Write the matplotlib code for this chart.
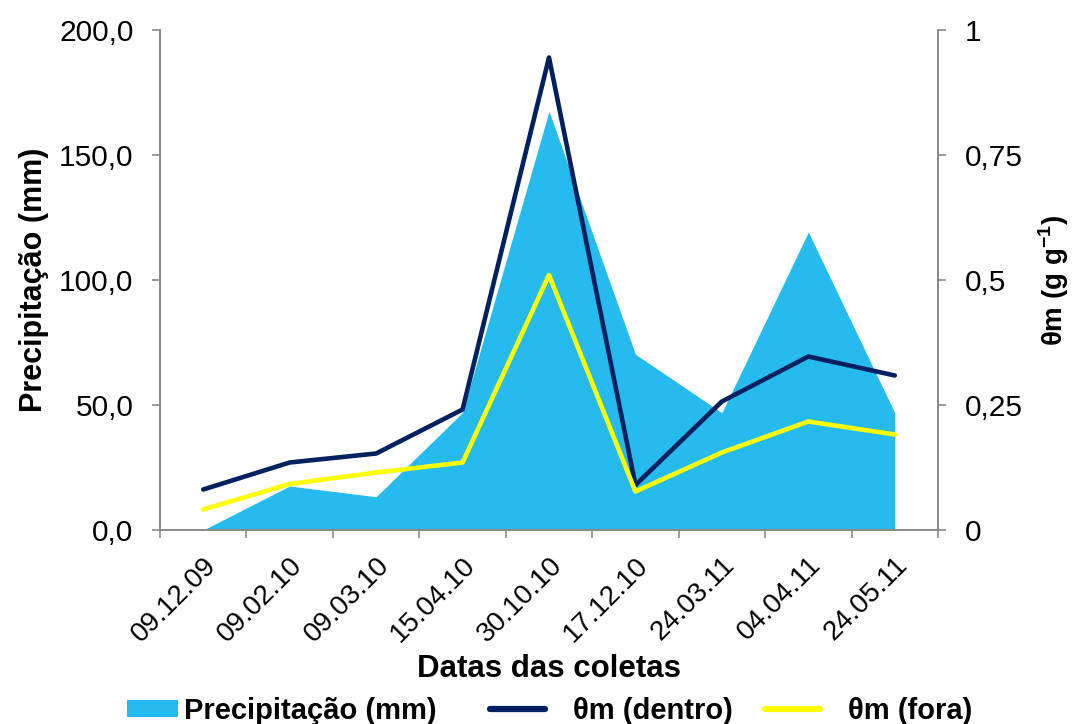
import matplotlib
matplotlib.use("Agg")
import matplotlib.pyplot as plt
import matplotlib.transforms as mtransforms
from matplotlib.patches import Patch
from matplotlib.lines import Line2D
import numpy as np

plt.rcParams['font.family'] = ['Liberation Sans', 'DejaVu Sans']
plt.rcParams['mathtext.fontset'] = 'custom'
plt.rcParams['mathtext.rm'] = 'Liberation Sans'
plt.rcParams['mathtext.bf'] = 'Liberation Sans:bold'

categories = ["09.12.09", "09.02.10", "09.03.10", "15.04.10", "30.10.10",
              "17.12.10", "24.03.11", "04.04.11", "24.05.11"]
precip = [0.0, 17.6, 13.3, 47.0, 167.5, 70.3, 46.9, 119.2, 46.9]
theta_dentro = [0.081, 0.135, 0.153, 0.241, 0.945, 0.090, 0.257, 0.347, 0.309]
theta_fora = [0.041, 0.092, 0.115, 0.135, 0.510, 0.077, 0.155, 0.217, 0.191]
left_ticks = [0, 50, 100, 150, 200]
left_labels = ["0,0", "50,0", "100,0", "150,0", "200,0"]
right_ticks = [0, 0.25, 0.5, 0.75, 1]
right_labels = ["0", "0,25", "0,5", "0,75", "1"]

c_area = "#25BBEF"
c_dentro = "#002060"
c_fora = "#FFFF00"
grey = "#898989"

fig = plt.figure(figsize=(10.74, 7.24), dpi=100)
ax = fig.add_axes([160/1074, 1-530/724, (938-160)/1074, 500/724])
x = np.arange(len(categories))
ax.fill_between(x, precip, 0, color=c_area, linewidth=0)
ax.set_xlim(-0.5, len(categories)-0.5)
ax.set_ylim(0, 200)
ax.set_yticks(left_ticks)
ax.set_yticklabels(left_labels, fontsize=21.5)
ax.set_xticks(x)
ax.set_xticklabels(categories, rotation=45, ha='right', va='top', rotation_mode='anchor', fontsize=20)
offset = mtransforms.ScaledTranslation(0.02, 0.0, fig.dpi_scale_trans)
for lab in ax.get_xticklabels():
    lab.set_transform(lab.get_transform() + offset)
ax.set_xticks(np.arange(-0.5, len(categories)), minor=True)
ax.tick_params(axis='x', which='major', length=0, pad=16)
ax.tick_params(axis='x', which='minor', length=6, color=grey, width=1.2, direction='out')
ax.tick_params(axis='y', length=6, color=grey, width=1.2, direction='out', pad=13)

ax2 = ax.twinx()
ax2.plot(x, theta_dentro, color=c_dentro, linewidth=3.3, solid_capstyle='round', solid_joinstyle='round')
ax2.plot(x, theta_fora, color=c_fora, linewidth=3.3, solid_capstyle='round', solid_joinstyle='round')
ax2.set_ylim(0, 1)
ax2.set_yticks(right_ticks)
ax2.set_yticklabels(right_labels, fontsize=21.5)
ax2.tick_params(axis='y', length=6, color=grey, width=1.2, direction='out', pad=13)

for a in (ax, ax2):
    a.spines['top'].set_visible(False)
    for s in ('left', 'right', 'bottom'):
        a.spines[s].set_color(grey)
        a.spines[s].set_linewidth(1.2)

ax.set_ylabel("Precipitação (mm)", fontsize=22, fontweight='bold', labelpad=7)
ax2.set_ylabel("θm (g g$^{\\mathbf{-1}}$)", fontsize=20, fontweight='bold', labelpad=10)
ax.set_xlabel("Datas das coletas", fontsize=22.5, fontweight='bold', labelpad=5)

legend_font = {'weight': 'bold', 'size': 21}
entries = [
    (Patch(facecolor=c_area, edgecolor='none'), "Precipitação (mm)", 127, 1.75, 0.2),
    (Line2D([0], [0], color=c_dentro, linewidth=4.5, solid_capstyle='round'), "θm (dentro)", 490, 1.88, 0.95),
    (Line2D([0], [0], color=c_fora, linewidth=4.5, solid_capstyle='round'), "θm (fora)", 765, 1.88, 0.95),
]
for h, lab, xpx, hl, htp in entries:
    leg = fig.legend([h], [lab], loc='center left', bbox_to_anchor=(xpx/1074, 1-711/724),
                     frameon=False, prop=legend_font, handlelength=hl, handleheight=0.55,
                     handletextpad=htp, borderpad=0, borderaxespad=0)

fig.savefig("out.png", dpi=100)
